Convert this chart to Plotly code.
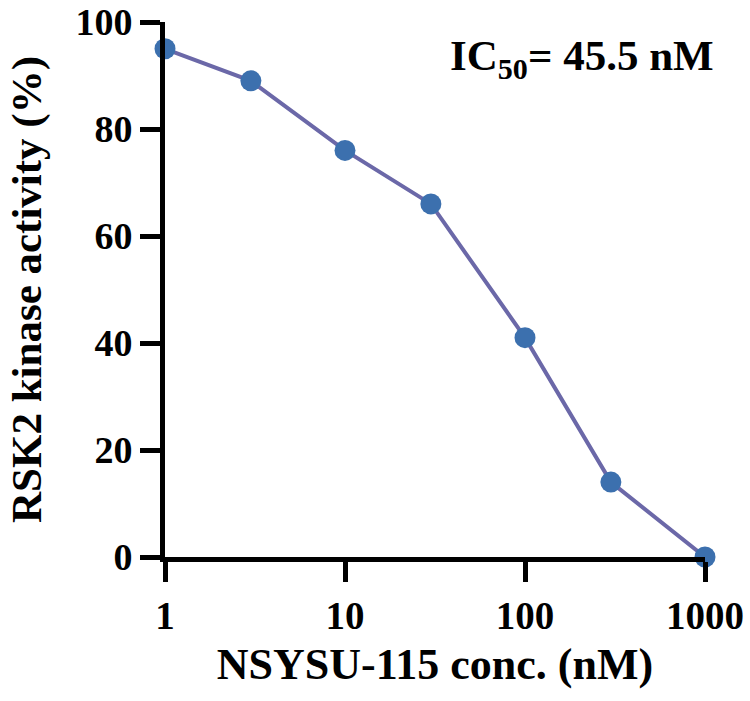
import plotly.graph_objects as go

conc_nM = [1, 3, 10, 30, 100, 300, 1000]
activity_pct = [95, 89, 76, 66, 41, 14, 0]
x_tick_vals = [1, 10, 100, 1000]
x_tick_text = ["1", "10", "100", "1000"]
y_tick_vals = [0, 20, 40, 60, 80, 100]

FONT = "Liberation Serif"

fig = go.Figure()
fig.add_trace(go.Scatter(
    x=conc_nM, y=activity_pct, mode="lines+markers",
    line=dict(color="#6b68a8", width=4),
    marker=dict(color="#3c70ae", size=21, line=dict(width=0)),
    cliponaxis=False, showlegend=False,
))

fig.update_layout(
    width=750, height=701,
    margin=dict(l=165, r=45, t=22, b=144),
    plot_bgcolor="white", paper_bgcolor="white",
    font=dict(family=FONT, color="black", weight="bold"),
    xaxis=dict(
        type="log", range=[0, 3], automargin=False,
        tickvals=x_tick_vals, ticktext=x_tick_text,
        showline=True, linecolor="black", linewidth=5,
        ticks="outside", ticklen=20, tickwidth=5, tickcolor="black",
        showgrid=False, zeroline=False, ticklabeloverflow="allow",
        tickfont=dict(family=FONT, size=39, color="black", weight="bold"),
        title=dict(text="NSYSU-115 conc. (nM)", standoff=14,
                   font=dict(family=FONT, size=44, color="black", weight="bold")),
    ),
    yaxis=dict(
        range=[0, 100], automargin=False,
        tickvals=y_tick_vals,
        showline=True, linecolor="black", linewidth=5,
        ticks="outside", ticklen=20, tickwidth=5, tickcolor="black",
        showgrid=False, zeroline=False, ticklabeloverflow="allow",
        tickfont=dict(family=FONT, size=38, color="black", weight="bold"),
        title=dict(text="RSK2 kinase activity (%)", standoff=22,
                   font=dict(family=FONT, size=43, color="black", weight="bold")),
    ),
    annotations=[dict(
        text="IC<sub>50</sub>= 45.5 nM",
        xref="paper", yref="paper", x=1.02, y=0.93,
        xanchor="right", yanchor="middle", showarrow=False,
        font=dict(family=FONT, size=43, color="black", weight="bold"),
    )],
)

fig.write_html("out.html")
